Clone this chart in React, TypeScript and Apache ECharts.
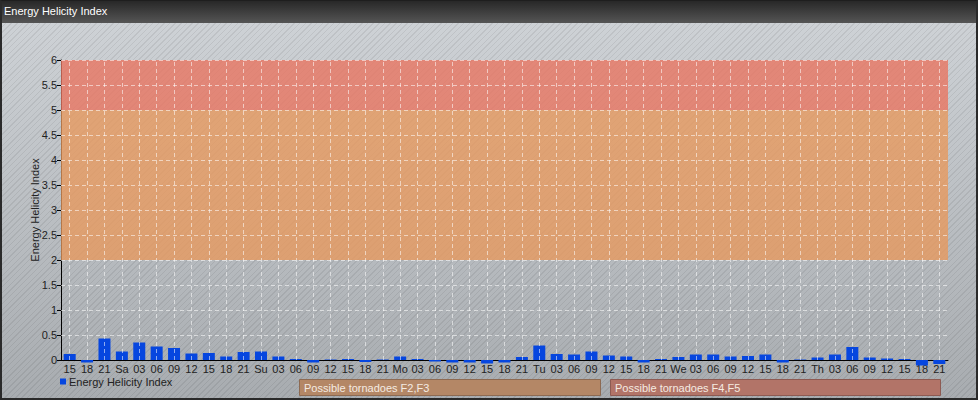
import React, { useEffect, useRef } from "react";
import * as echarts from "echarts";

const categories = [
  "15", "18", "21",
  "Sa", "03", "06", "09", "12", "15", "18", "21",
  "Su", "03", "06", "09", "12", "15", "18", "21",
  "Mo", "03", "06", "09", "12", "15", "18", "21",
  "Tu", "03", "06", "09", "12", "15", "18", "21",
  "We", "03", "06", "09", "12", "15", "18", "21",
  "Th", "03", "06", "09", "12", "15", "18", "21",
];

const ehiValues = [
  0.12, -0.05, 0.43,
  0.17, 0.35, 0.27, 0.24, 0.13, 0.14, 0.07, 0.16,
  0.17, 0.07, 0.02, -0.05, 0.01, 0.02, -0.04, 0.01,
  0.07, 0.02, -0.03, -0.05, -0.05, -0.07, -0.05, 0.06,
  0.29, 0.12, 0.11, 0.17, 0.09, 0.07, -0.05, 0.02,
  0.06, 0.11, 0.11, 0.07, 0.08, 0.11, -0.05, 0.01,
  0.05, 0.11, 0.26, 0.05, 0.03, 0.02, -0.11, -0.08,
];

const yGridValues = [0.5, 1, 1.5, 2, 2.5, 3, 3.5, 4, 4.5, 5, 5.5, 6];

const bands = [
  { from: 2, to: 5, color: "rgba(232,152,92,0.78)", label: "Possible tornadoes F2,F3" },
  { from: 5, to: 6, color: "rgba(232,118,98,0.80)", label: "Possible tornadoes F4,F5" },
];

const FONT = "'Liberation Sans', Arial, sans-serif";

export default function App() {
  const ref = useRef<HTMLDivElement>(null);

  useEffect(() => {
    if (!ref.current) return;
    const chart = echarts.init(ref.current, undefined, { renderer: "svg" });
    const gridLine = {
      color: "rgba(255,255,255,0.55)",
      type: [4, 3] as any,
      width: 1,
    };
    chart.setOption({
      animation: false,
      backgroundColor: "transparent",
      textStyle: { fontFamily: FONT },
      title: {
        text: "Energy Helicity Index",
        left: 4,
        top: 5,
        padding: 0,
        textStyle: { color: "#ffffff", fontSize: 11, fontWeight: "normal", fontFamily: FONT },
      },
      legend: {
        data: ["Energy Helicity Index"],
        left: 60,
        top: 376,
        icon: "rect",
        itemWidth: 6,
        itemHeight: 6,
        itemGap: 10,
        padding: 0,
        textStyle: { color: "#222", fontSize: 11, fontFamily: FONT, padding: [0, 0, 0, -2] },
        selectedMode: false,
      },
      grid: { left: 61, right: 30, top: 60, bottom: 40, containLabel: false },
      xAxis: {
        type: "category",
        data: categories,
        boundaryGap: true,
        axisLine: { show: true, lineStyle: { color: "#000", width: 1 } },
        axisTick: { show: false },
        axisLabel: { interval: 0, color: "#222", fontSize: 11, margin: 3, fontFamily: FONT },
        splitLine: { show: false },
      },
      yAxis: {
        type: "value",
        min: 0,
        max: 6,
        interval: 0.5,
        name: "Energy Helicity Index",
        nameLocation: "middle",
        nameGap: 21,
        nameMoveOverlap: false,
        nameTextStyle: { color: "#222", fontSize: 11, fontFamily: FONT },
        axisLine: { show: true, lineStyle: { color: "#000", width: 1 } },
        axisTick: { show: true, length: 4, lineStyle: { color: "#000" } },
        axisLabel: { color: "#222", fontSize: 11, margin: 4, fontFamily: FONT },
        splitLine: { show: false },
      },
      series: [
        {
          name: "bands",
          type: "line",
          data: [],
          z: 1,
          silent: true,
          markArea: {
            silent: true,
            data: bands.map((b) => [
              { yAxis: b.from, itemStyle: { color: b.color } },
              { yAxis: b.to },
            ]),
          },
        },
        {
          name: "gridlines",
          type: "line",
          data: [],
          z: 2,
          silent: true,
          markLine: {
            silent: true,
            symbol: "none",
            label: { show: false },
            lineStyle: gridLine,
            data: [
              ...yGridValues.map((v) => ({ yAxis: v })),
              ...categories.map((_, i) => [
                { coord: [i, 0] },
                { coord: [i, 6] },
              ]),
            ],
          },
        },
        {
          name: "Energy Helicity Index",
          type: "bar",
          data: ehiValues,
          barWidth: 12,
          clip: false,
          z: 3,
          itemStyle: { color: "#0646df" },
        },
      ],
      graphic: [
        {
          type: "rect",
          z: -10,
          shape: { x: 0, y: 0, width: 978, height: 23 },
          style: {
            fill: new echarts.graphic.LinearGradient(0, 0, 0, 1, [
              { offset: 0, color: "#262626" },
              { offset: 1, color: "#555555" },
            ]),
          },
        },
        {
          type: "rect",
          shape: { x: 299.5, y: 379.5, width: 301, height: 16 },
          style: { fill: "#b48766", stroke: "#8d6a52", lineWidth: 1 },
        },
        {
          type: "text",
          x: 304,
          y: 388,
          style: {
            text: bands[0].label,
            fill: "#f5ebe2",
            font: `11px ${FONT}`,
            verticalAlign: "middle",
          },
        },
        {
          type: "rect",
          shape: { x: 610.5, y: 379.5, width: 330, height: 16 },
          style: { fill: "#b27468", stroke: "#8d5a52", lineWidth: 1 },
        },
        {
          type: "text",
          x: 615,
          y: 388,
          style: {
            text: bands[1].label,
            fill: "#f5ebe2",
            font: `11px ${FONT}`,
            verticalAlign: "middle",
          },
        },
      ],
    });
    return () => chart.dispose();
  }, []);

  return (
    <div
      style={{
        position: "fixed",
        left: 0,
        top: 0,
        width: 978,
        height: 400,
        background:
          "repeating-linear-gradient(135deg, rgba(0,0,0,0.07) 0px, rgba(0,0,0,0.07) 1px, rgba(0,0,0,0) 1px, rgba(0,0,0,0) 4px), linear-gradient(#d0d4d8, #a8acb0)",
      }}
    >
      <div ref={ref} style={{ position: "absolute", left: 0, top: 0, width: 978, height: 400 }} />
      <div
        style={{
          position: "absolute",
          left: 0,
          top: 0,
          width: 978,
          height: 400,
          boxSizing: "border-box",
          borderTop: "1px solid #1e1e1e",
          borderLeft: "2px solid #2a2a2a",
          borderRight: "2px solid #2a2a2a",
          borderBottom: "2px solid #2a2a2a",
          pointerEvents: "none",
        }}
      />
    </div>
  );
}
